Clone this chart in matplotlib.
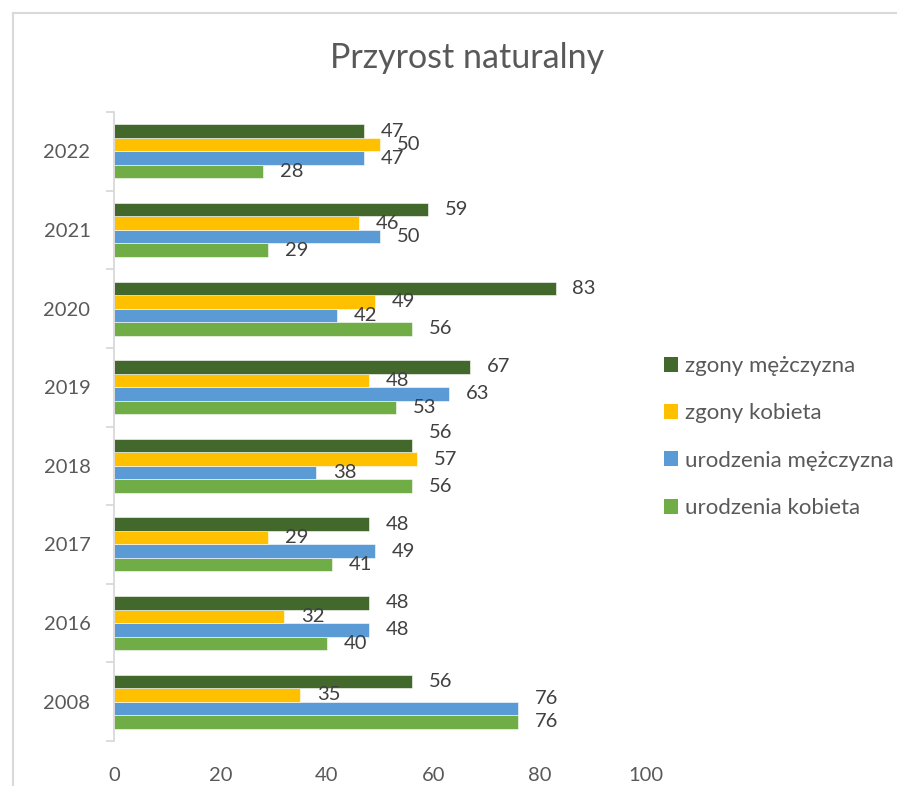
import matplotlib
matplotlib.use("Agg")
import matplotlib.pyplot as plt
import numpy as np
from matplotlib.lines import Line2D
from matplotlib.patches import Patch

plt.rcParams['font.family'] = ['Lato', 'DejaVu Sans']

years = ["2008", "2016", "2017", "2018", "2019", "2020", "2021", "2022"]
urodzenia_kobieta = [76, 40, 41, 56, 53, 56, 29, 28]
urodzenia_mezczyzna = [76, 48, 49, 38, 63, 42, 50, 47]
zgony_kobieta = [35, 32, 29, 57, 48, 49, 46, 50]
zgony_mezczyzna = [56, 48, 48, 56, 67, 83, 59, 47]

series = [
    ("urodzenia kobieta", urodzenia_kobieta, "#70AD47"),
    ("urodzenia mężczyzna", urodzenia_mezczyzna, "#5B9BD5"),
    ("zgony kobieta", zgony_kobieta, "#FFC000"),
    ("zgony mężczyzna", zgony_mezczyzna, "#43682B"),
]

# manually moved data labels in the original (series, year) -> vertical shift in points
label_shift = {("zgony mężczyzna", "2018"): 9.5,
               ("urodzenia mężczyzna", "2008"): 7.0}

W, H = 897, 786
fig = plt.figure(figsize=(W / 100, H / 100), dpi=100)
ax = fig.add_axes([114 / W, 45 / H, (646 - 114) / W, (741 - 112) / H])

y = np.arange(len(years))
h = 0.172
offsets = [-1.5, -0.5, 0.5, 1.5]
for (name, vals, col), off in zip(series, offsets):
    ax.barh(y + off * h, vals, height=h, color=col, edgecolor="white",
            linewidth=0.4, label=name)
    for yi, v in zip(y, vals):
        dy = label_shift.get((name, years[yi]), 0)
        ax.annotate(str(v), xy=(v, yi + off * h), xytext=(12, dy),
                    textcoords="offset points", ha="left", va="center",
                    fontsize=14.5, color="#404040")

ax.set_xlim(0, 100)
ax.set_ylim(-0.5, len(years) - 0.5)
ax.set_xticks([0, 20, 40, 60, 80, 100])
ax.set_yticks(y)
ax.set_yticklabels(years)
ax.set_yticks(np.arange(-0.5, len(years), 1.0), minor=True)
ax.tick_params(axis="y", which="major", length=0, pad=17, labelsize=14.5,
               labelcolor="#595959")
ax.tick_params(axis="y", which="minor", length=6, color="#D9D9D9", width=1.3)
ax.tick_params(axis="x", length=0, pad=19, labelsize=14.5, labelcolor="#595959")
for s in ["top", "right", "bottom"]:
    ax.spines[s].set_visible(False)
ax.spines["left"].set_color("#D9D9D9")
ax.spines["left"].set_linewidth(1.3)

fig.text(467 / W, 1 - 58 / H, "Przyrost naturalny", ha="center", va="center",
         fontsize=24.5, color="#595959")

# outer chart frame
fig.add_artist(Line2D([13 / W, 13 / W], [0, 1 - 13 / H], transform=fig.transFigure,
                      color="#D9D9D9", lw=1.5))
fig.add_artist(Line2D([13 / W, 1], [1 - 13 / H, 1 - 13 / H], transform=fig.transFigure,
                      color="#D9D9D9", lw=1.5))

handles = [Patch(facecolor=c, edgecolor="none", label=n) for n, _, c in reversed(series)]
fig.legend(handles=handles, loc="center left",
           bbox_to_anchor=(664 / W, 1 - 437 / H), frameon=False,
           fontsize=16, labelcolor="#595959", handlelength=0.65,
           handleheight=0.65, handletextpad=0.3, labelspacing=1.23,
           borderpad=0, borderaxespad=0)

fig.savefig("out.png", dpi=100, facecolor="white")
